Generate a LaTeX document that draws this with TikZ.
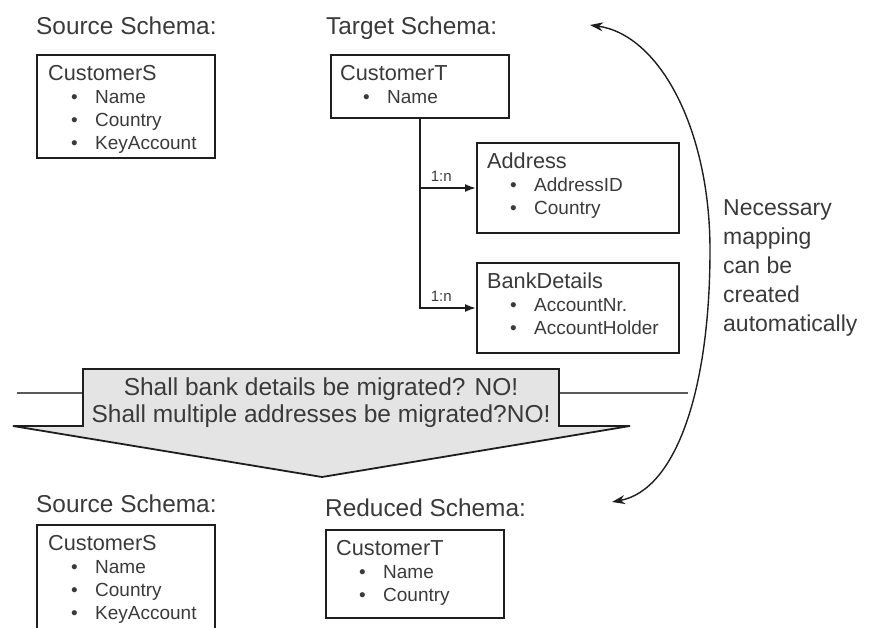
\documentclass[tikz,border=0pt]{standalone}
\usepackage{fontspec}
\setmainfont{Liberation Sans}
\usetikzlibrary{arrows.meta, positioning}
\definecolor{schemaline}{HTML}{1E1E1E}
\definecolor{schematextcol}{HTML}{3A3A3A}
\definecolor{bannerfill}{HTML}{E4E4E4}
\definecolor{dividerline}{HTML}{5A5A5A}

\newcommand{\entity}[1]{{\fontsize{21.7}{23}\selectfont #1}}
\newcommand{\attr}[1]{\hspace*{23pt}\makebox[24pt][l]{\textbullet}#1}

\begin{document}
\begin{tikzpicture}[
        x=1pt, y=-1pt,
        schemabox/.style={
            draw=schemaline,
            line width=2pt,
            anchor=north west,
            inner sep=0pt
        },
        schematext/.style={
            anchor=north west,
            inner sep=0pt,
            align=left,
            text=schematextcol,
            font=\fontsize{19}{23}\selectfont
        },
        schematitle/.style={anchor=base west, inner sep=0pt, text=schematextcol, font=\fontsize{24.4}{28}\selectfont},
        relation/.style={-{Latex[length=11pt, width=8pt]}, line width=1.8pt, schemaline},
        mapping/.style={{Stealth[length=13pt, width=9pt]}-{Stealth[length=13pt, width=9pt]}, line width=1.4pt, schemaline},
        cardinality/.style={font=\fontsize{15}{16}\selectfont, text=schematextcol, inner sep=0pt}
    ]
        \useasboundingbox (0,0) rectangle (870,628);
        \clip (0,0) rectangle (870,628);

        % source and target before the reduction
        \node[schematitle] (srctitle) at (36,35) {Source Schema:};
        \node[schemabox, minimum width=178pt, minimum height=103pt] (srcbox) at (36,54) {};
        \node[schematext, below right=11pt and 12pt of srcbox.north west] (srctext)
            {\entity{CustomerS}\\ \attr{Name}\\ \attr{Country}\\ \attr{KeyAccount}};

        \node[schematitle] (tgttitle) at (326,35) {Target Schema:};
        \node[schemabox, minimum width=178pt, minimum height=63pt] (custT) at (330,54) {};
        \node[schematext, below right=11pt and 10pt of custT.north west] (custTtext)
            {\entity{CustomerT}\\ \attr{Name}};

        \node[schemabox, minimum width=202pt, minimum height=90pt] (address) at (476,142) {};
        \node[schematext, below right=11pt and 11pt of address.north west] (addresstext)
            {\entity{Address}\\ \attr{AddressID}\\ \attr{Country}};

        \node[schemabox, minimum width=202pt, minimum height=90pt] (bank) at (476,262) {};
        \node[schematext, below right=11pt and 11pt of bank.north west] (banktext)
            {\entity{BankDetails}\\ \attr{AccountNr.}\\ \attr{AccountHolder}};

        \draw[relation] (custT.south) |- node[cardinality, above=6pt, pos=0.69] (addrcard) {1:n} (address.west);
        \draw[relation] (custT.south) |- node[cardinality, above=6pt, pos=0.69] (bankcard) {1:n} (bank.west);

        % mapping note on the right
        \coordinate (maptop) at (590,25);
        \coordinate (mapbottom) at (612,502);
        \draw[mapping] (maptop) .. controls (660,35) and (710,130) .. (710,250)
            .. controls (710,390) and (676,490) .. (mapbottom);
        \node[anchor=north west, inner sep=0pt, align=left, text=schematextcol,
            font=\fontsize{23}{29}\selectfont] (mapnote) at (723,199)
            {Necessary\\ mapping\\ can be\\ created\\ automatically};

        % divider and question banner
        \coordinate (divleft) at (17,393);
        \coordinate (divright) at (688,393);
        \draw[dividerline, line width=2.2pt] (divleft) -- (divright);
        \draw[schemaline, line width=1.8pt, fill=bannerfill, line join=miter]
            (83,426) -- (83,369) -- (559,369) -- (559,426) -- (630,426)
            -- (322,477) -- (13,426) -- cycle;
        \node[anchor=north, inner sep=0pt, align=center, text=schematextcol,
            font=\fontsize{24.5}{27}\selectfont] (question) at (321,378)
            {Shall bank details be migrated? NO!\\ Shall multiple addresses be migrated?NO!};

        % source and reduced schema after the reduction
        \node[schematitle] (srctitle2) at (36,512) {Source Schema:};
        \node[schemabox, minimum width=178pt, minimum height=116pt] (srcbox2) at (36,524) {};
        \node[schematext, below right=11pt and 12pt of srcbox2.north west] (srctext2)
            {\entity{CustomerS}\\ \attr{Name}\\ \attr{Country}\\ \attr{KeyAccount}};

        \node[schematitle] (redtitle) at (325,516) {Reduced Schema:};
        \node[schemabox, minimum width=178pt, minimum height=88pt] (reduced) at (325,529) {};
        \node[schematext, below right=11pt and 11pt of reduced.north west] (reducedtext)
            {\entity{CustomerT}\\ \attr{Name}\\ \attr{Country}};
    \end{tikzpicture}
\end{document}
